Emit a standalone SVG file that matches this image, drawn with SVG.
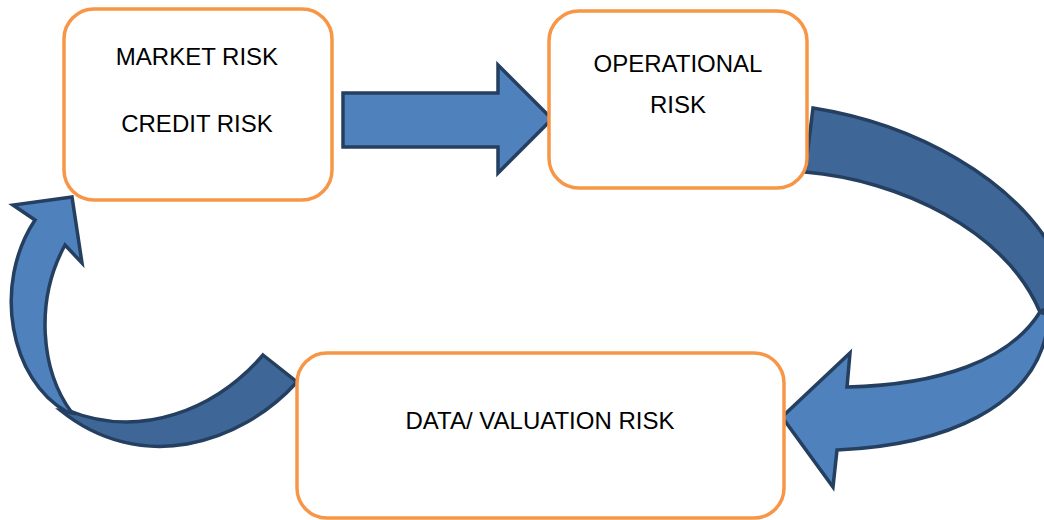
<svg xmlns="http://www.w3.org/2000/svg" width="1044" height="520" viewBox="0 0 1044 520">
<style>
.box{fill:#fff;stroke:#F79646;stroke-width:3.5}
.t{font-family:"Liberation Sans",Arial,sans-serif;font-size:24px;fill:#000;text-anchor:middle}
.lt{fill:#4F81BD;stroke:#243F60;stroke-width:3.5;stroke-linejoin:miter}
.dk{fill:#3E6696;stroke:#243F60;stroke-width:3.5;stroke-linejoin:miter}
</style>
<rect width="1044" height="520" fill="#fff"/>
<g id="connectors">
<path class="lt" d="M343,93 L498,93 L498,65 L552,119 L498,173 L498,147 L343,147 Z"/>
<path class="dk" d="M813,108 C920,125 1010,180 1050,245 L1062,300 L1040,312 C1005,230 900,180 805,172 Z"/>
<path class="lt" d="M1040,312 C1010,360 940,385 847,387 L850,353 L782,417 L833,487 L837,450 C950,445 1030,405 1046,335 L1062,320 Z"/>
<path class="dk" d="M263,355 L297,382 C240,445 140,475 60,410 L67,410 C140,440 215,410 263,355 Z"/>
<path class="lt" d="M35,220 L13,205 L72,197 L82,263 L65,245 C35,300 40,370 72,413 L67,412 C10,380 -8,285 35,220 Z"/>
</g>
<g id="node-market">
<rect class="box" x="64" y="9" width="268" height="191" rx="30"/>
<text class="t" x="197" y="65">MARKET RISK</text>
<text class="t" x="197" y="132">CREDIT RISK</text>
</g>
<g id="node-operational">
<rect class="box" x="549" y="11" width="258" height="177" rx="30"/>
<text class="t" x="678" y="72">OPERATIONAL</text>
<text class="t" x="678" y="113">RISK</text>
</g>
<g id="node-data">
<rect class="box" x="297" y="353" width="487" height="165" rx="30"/>
<text class="t" x="540" y="429">DATA/ VALUATION RISK</text>
</g>
</svg>
